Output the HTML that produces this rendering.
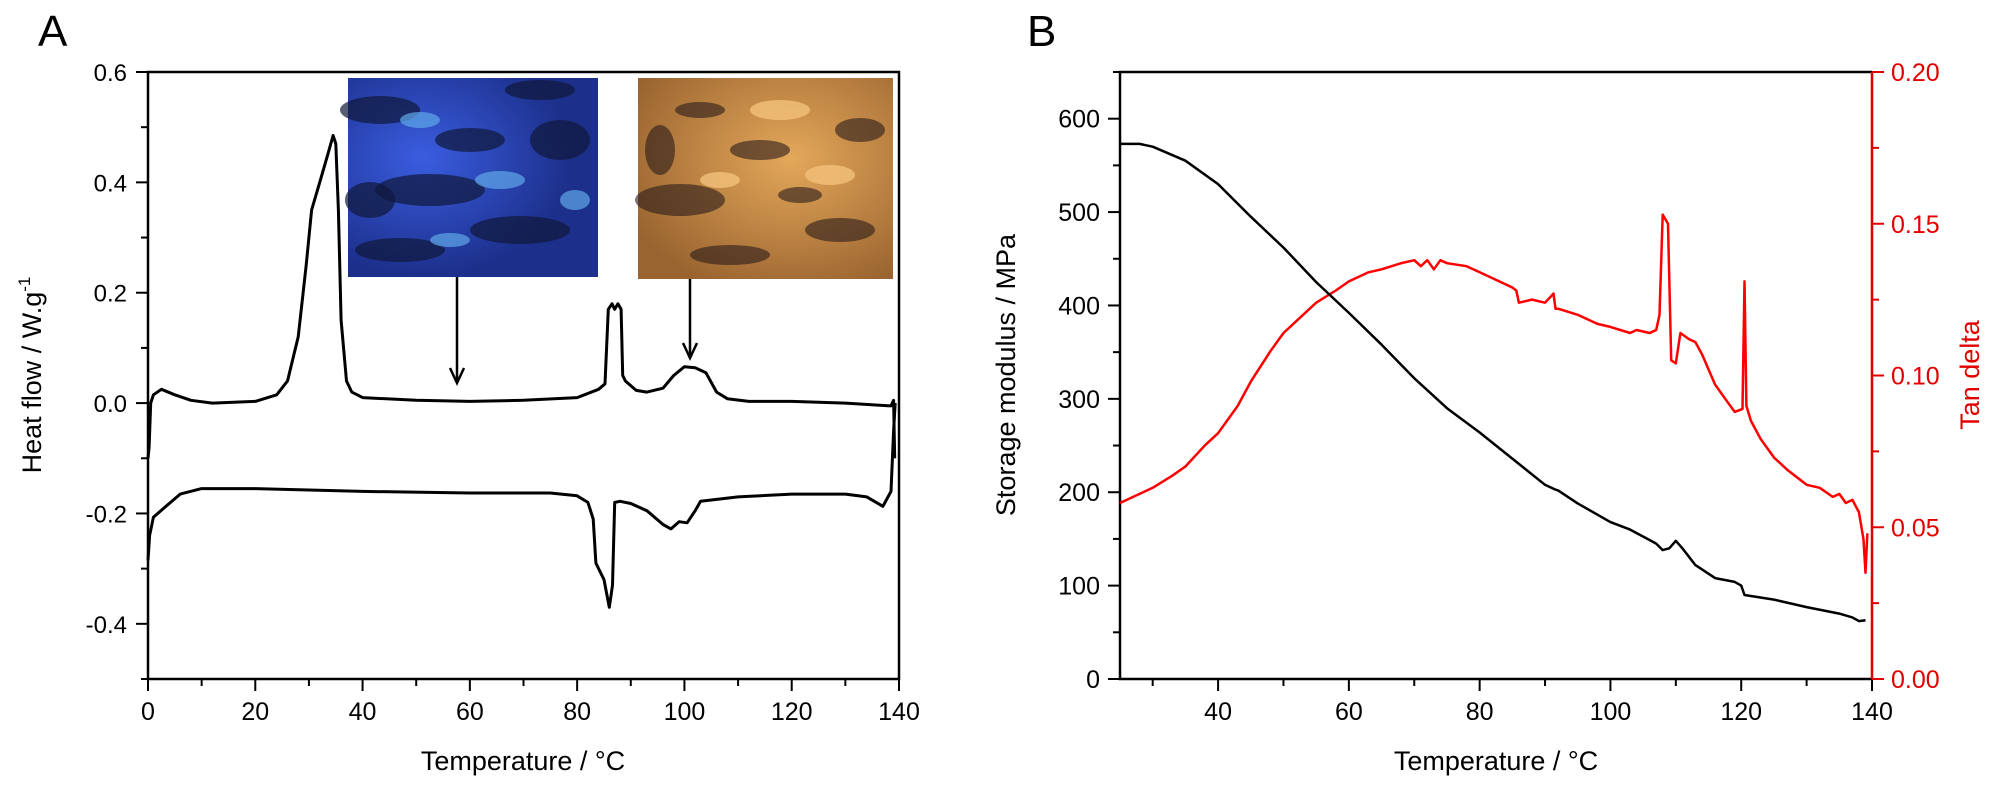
<!DOCTYPE html>
<html><head><meta charset="utf-8">
<style>
html,body{margin:0;padding:0;background:#fff;}
svg{display:block;font-family:"Liberation Sans",Arial,sans-serif;}
</style></head>
<body>
<svg id="fig" width="2000" height="787" viewBox="0 0 2000 787" xmlns="http://www.w3.org/2000/svg">
<defs>
<radialGradient id="gb1" cx="0.3" cy="0.4" r="0.6"><stop offset="0" stop-color="#3a5de0"/><stop offset="1" stop-color="#1c2f8a"/></radialGradient>
<radialGradient id="go1" cx="0.6" cy="0.4" r="0.7"><stop offset="0" stop-color="#e4a85a"/><stop offset="1" stop-color="#9a6430"/></radialGradient>
</defs>
<text x="38" y="46" font-size="44">A</text>
<text x="1027" y="46" font-size="44">B</text>
<g id="gA"></g>
<g id="gB"></g>
</svg>
<script>
// ---------- Panel A data (DSC) ----------
const aHeatT = [0,0.2,0.5,1,2.5,5,8,12,20,24,26,28,29.5,30.5,32,33.5,34.5,35,35.5,36,37,38,40,50,60,70,80,84,85.2,85.8,86.5,87,87.6,88.2,88.5,89,91,93,96,98,100,102,104,106,108,112,120,130,138.5,139,139.2];
const aHeatV = [-0.1,-0.08,0,0.015,0.025,0.015,0.005,0,0.003,0.015,0.04,0.12,0.25,0.35,0.4,0.45,0.485,0.47,0.35,0.15,0.04,0.02,0.01,0.005,0.003,0.005,0.01,0.025,0.035,0.17,0.18,0.17,0.18,0.17,0.05,0.04,0.023,0.02,0.027,0.05,0.066,0.064,0.055,0.02,0.008,0.003,0.003,0,-0.005,0.005,-0.1];
const aCoolT = [0,0.3,1,3,6,10,20,40,60,75,80,82,83,83.5,84,85,86,86.6,87,88,90,93,96,97.5,99,100.5,102,103,110,120,130,134,137,138.5,139,139.3];
const aCoolV = [-0.285,-0.24,-0.207,-0.19,-0.165,-0.155,-0.155,-0.16,-0.163,-0.163,-0.168,-0.18,-0.21,-0.29,-0.3,-0.32,-0.37,-0.33,-0.18,-0.178,-0.182,-0.195,-0.22,-0.228,-0.215,-0.217,-0.195,-0.178,-0.17,-0.165,-0.165,-0.17,-0.187,-0.16,-0.05,0];
const aXTicks = [0,20,40,60,80,100,120,140];
const aYTicks = [0.6,0.4,0.2,0.0,-0.2,-0.4];
const aYLabels = ["0.6","0.4","0.2","0.0","-0.2","-0.4"];

// ---------- Panel B data (DMA) ----------
const bStoT = [25,28,30,35,40,45,50,55,60,65,70,75,80,85,90,91.5,92,95,100,103,107,108,109,110,111,113,116,119,120,120.5,125,130,135,137,138,139];
const bStoV = [573,573,570,555,530,495,462,425,392,358,322,290,264,236,208,203,202,188,168,160,145,138,140,148,140,122,108,104,100,90,85,77,70,66,62,63];
const bTanT = [25,27,30,33,35,38,40,43,45,48,50,53,55,58,60,63,65,68,70,71,72,73,74,75,78,80,83,85,85.6,86,88,90,91.3,91.6,92,95,98,100,103,104,106,107,107.5,108,108.8,109.3,110,110.7,112,113,114,116,118,119,120.2,120.5,120.8,121.5,123,125,127,130,132,134,135,136,137,138,138.7,139,139.3];
const bTanV = [0.058,0.06,0.063,0.067,0.07,0.077,0.081,0.09,0.098,0.108,0.114,0.12,0.124,0.128,0.131,0.134,0.135,0.137,0.138,0.136,0.138,0.135,0.138,0.137,0.136,0.134,0.131,0.129,0.128,0.124,0.125,0.124,0.127,0.122,0.122,0.12,0.117,0.116,0.114,0.115,0.114,0.115,0.12,0.153,0.15,0.105,0.104,0.114,0.112,0.111,0.107,0.097,0.091,0.088,0.089,0.131,0.09,0.085,0.079,0.073,0.069,0.064,0.063,0.06,0.061,0.058,0.059,0.055,0.046,0.035,0.048];
const bXTicks = [40,60,80,100,120,140];
const bYTicks = [0,100,200,300,400,500,600];
const bTanTicks = [0,0.05,0.1,0.15,0.2];
const bTanLabels = ["0.00","0.05","0.10","0.15","0.20"];

const NS = "http://www.w3.org/2000/svg";
function mk(parent, tag, attrs, text){
  const e = document.createElementNS(NS, tag);
  for (const k in attrs) e.setAttribute(k, attrs[k]);
  if (text !== undefined) e.textContent = text;
  parent.appendChild(e); return e;
}
// axis functions
const axA = {x0:148, x1:899, tmin:0, tmax:140, y0:679, y1:72, vmin:-0.5, vmax:0.6};
const axB = {x0:1120, x1:1872, tmin:25, tmax:140, y0:679, y1:72, vmin:0, vmax:650, tmin2:0, tmax2:0.2};
const xA = t => axA.x0 + (t-axA.tmin)/(axA.tmax-axA.tmin)*(axA.x1-axA.x0);
const yA = v => axA.y0 - (v-axA.vmin)/(axA.vmax-axA.vmin)*(axA.y0-axA.y1);
const xB = t => axB.x0 + (t-axB.tmin)/(axB.tmax-axB.tmin)*(axB.x1-axB.x0);
const yB = v => axB.y0 - (v-axB.vmin)/(axB.vmax-axB.vmin)*(axB.y0-axB.y1);
const yB2 = v => axB.y0 - (v-axB.tmin2)/(axB.tmax2-axB.tmin2)*(axB.y0-axB.y1);
function pathFrom(ts, vs, fx, fy){
  return ts.map((t,i)=>(i?"L":"M")+fx(t).toFixed(1)+","+fy(vs[i]).toFixed(1)).join(" ");
}

// ---------- Panel A ----------
const gA = document.getElementById("gA");
// micrographs
let img = mk(gA,"g",{});


mk(img,"rect",{x:348,y:78,width:250,height:199,fill:"url(#gb1)"});
[[380,110,40,14],[430,190,55,16],[520,230,50,14],[400,250,45,12],[560,140,30,20],[470,140,35,12],[370,200,25,18],[540,90,35,10]].forEach(d=>mk(img,"ellipse",{cx:d[0],cy:d[1],rx:d[2],ry:d[3],fill:"#10183a",opacity:0.7}));
[[420,120,20,8],[500,180,25,9],[575,200,15,10],[450,240,20,7]].forEach(d=>mk(img,"ellipse",{cx:d[0],cy:d[1],rx:d[2],ry:d[3],fill:"#5fa8e8",opacity:0.7}));
let img2 = mk(gA,"g",{});


mk(img2,"rect",{x:638,y:78,width:255,height:201,fill:"url(#go1)"});
[[680,200,45,16],[760,150,30,10],[840,230,35,12],[700,110,25,8],[860,130,25,12],[730,255,40,10],[800,195,22,8],[660,150,15,25]].forEach(d=>mk(img2,"ellipse",{cx:d[0],cy:d[1],rx:d[2],ry:d[3],fill:"#2a1c1a",opacity:0.6}));
[[780,110,30,10],[830,175,25,10],[720,180,20,8]].forEach(d=>mk(img2,"ellipse",{cx:d[0],cy:d[1],rx:d[2],ry:d[3],fill:"#f3c07a",opacity:0.8}));
// arrows
let ar1 = mk(gA,"g",{stroke:"#000","stroke-width":2.5,fill:"none"});


mk(ar1,"line",{x1:457,y1:277,x2:457,y2:383});
mk(ar1,"path",{d:"M450,368 L457,383 L464,368"});
let ar2 = mk(gA,"g",{stroke:"#000","stroke-width":2.5,fill:"none"});


mk(ar2,"line",{x1:690,y1:279,x2:690,y2:358});
mk(ar2,"path",{d:"M683,343 L690,358 L697,343"});
// frame
let frA = mk(gA,"rect",{x:axA.x0,y:axA.y1,width:axA.x1-axA.x0,height:axA.y0-axA.y1,fill:"none",stroke:"#000","stroke-width":2.5});


// x ticks
for (let t=0;t<=140;t+=10){
  const major = aXTicks.includes(t);
  mk(gA,"line",{x1:xA(t),x2:xA(t),y1:axA.y0,y2:axA.y0+(major?12:7),stroke:"#000","stroke-width":2});
}
aXTicks.forEach(t=>{
  const l = mk(gA,"text",{x:xA(t),y:720,"font-size":25,"text-anchor":"middle"},String(t));
  
  
});
for (let k=-5;k<=6;k++){
  const v=k/10, major = (k%2===0);
  mk(gA,"line",{x1:axA.x0-(major?12:7),x2:axA.x0,y1:yA(v),y2:yA(v),stroke:"#000","stroke-width":2});
}
aYTicks.forEach((v,i)=>{
  const l = mk(gA,"text",{x:127,y:yA(v)+9,"font-size":24,"text-anchor":"end"},aYLabels[i]);
  
  
});
// curves
let ch = mk(gA,"path",{d:pathFrom(aHeatT,aHeatV,xA,yA),fill:"none",stroke:"#000","stroke-width":3,"stroke-linejoin":"round"});


let cc = mk(gA,"path",{d:pathFrom(aCoolT,aCoolV,xA,yA),fill:"none",stroke:"#000","stroke-width":3,"stroke-linejoin":"round"});


// titles
let xtA = mk(gA,"text",{x:523,y:770,"font-size":27,"text-anchor":"middle"},"Temperature / °C");


let ytA = mk(gA,"text",{x:0,y:0,"font-size":27,"text-anchor":"middle",transform:"translate(41,375) rotate(-90)"});


ytA.textContent = "Heat flow / W.g";
mk(ytA,"tspan",{"font-size":17,dy:-11},"-1");

// ---------- Panel B ----------
const gB = document.getElementById("gB");
let frB = mk(gB,"path",{d:`M${axB.x1},${axB.y1} L${axB.x0},${axB.y1} L${axB.x0},${axB.y0} L${axB.x1},${axB.y0}`,fill:"none",stroke:"#000","stroke-width":2.5});


let raxis = mk(gB,"line",{x1:axB.x1,x2:axB.x1,y1:axB.y1,y2:axB.y0,stroke:"#e00000","stroke-width":2.5});


for (let t=30;t<=140;t+=10){
  const major = bXTicks.includes(t);
  mk(gB,"line",{x1:xB(t),x2:xB(t),y1:axB.y0,y2:axB.y0+(major?12:7),stroke:"#000","stroke-width":2});
}
bXTicks.forEach(t=>{
  const l = mk(gB,"text",{x:xB(t),y:720,"font-size":25,"text-anchor":"middle"},String(t));
  
  
});
for (let v=0;v<=650;v+=50){
  const major = (v%100===0);
  mk(gB,"line",{x1:axB.x0-(major?12:7),x2:axB.x0,y1:yB(v),y2:yB(v),stroke:"#000","stroke-width":2});
}
bYTicks.forEach(v=>{
  const l = mk(gB,"text",{x:1100,y:yB(v)+9,"font-size":25,"text-anchor":"end"},String(v));
  
  
});
for (let k=0;k<=8;k++){
  const v=k*0.025, major=(k%2===0);
  mk(gB,"line",{x1:axB.x1,x2:axB.x1+(major?12:7),y1:yB2(v),y2:yB2(v),stroke:"#e00000","stroke-width":2});
}
bTanTicks.forEach((v,i)=>{
  const l = mk(gB,"text",{x:1891,y:yB2(v)+9,"font-size":25,fill:"#e00000"},bTanLabels[i]);
  
  
});
let ct = mk(gB,"path",{d:pathFrom(bTanT,bTanV,xB,yB2),fill:"none",stroke:"#ff0000","stroke-width":2.5,"stroke-linejoin":"round"});


let cs = mk(gB,"path",{d:pathFrom(bStoT,bStoV,xB,yB),fill:"none",stroke:"#000","stroke-width":2.5,"stroke-linejoin":"round"});


let xtB = mk(gB,"text",{x:1496,y:770,"font-size":27,"text-anchor":"middle"},"Temperature / °C");


let ytB = mk(gB,"text",{x:0,y:0,"font-size":27,"text-anchor":"middle",transform:"translate(1015,375) rotate(-90)"},"Storage modulus / MPa");


let ytB2 = mk(gB,"text",{x:0,y:0,"font-size":27,"text-anchor":"middle",fill:"#e00000",transform:"translate(1979,375) rotate(-90)"},"Tan delta");


</script>
</body></html>
